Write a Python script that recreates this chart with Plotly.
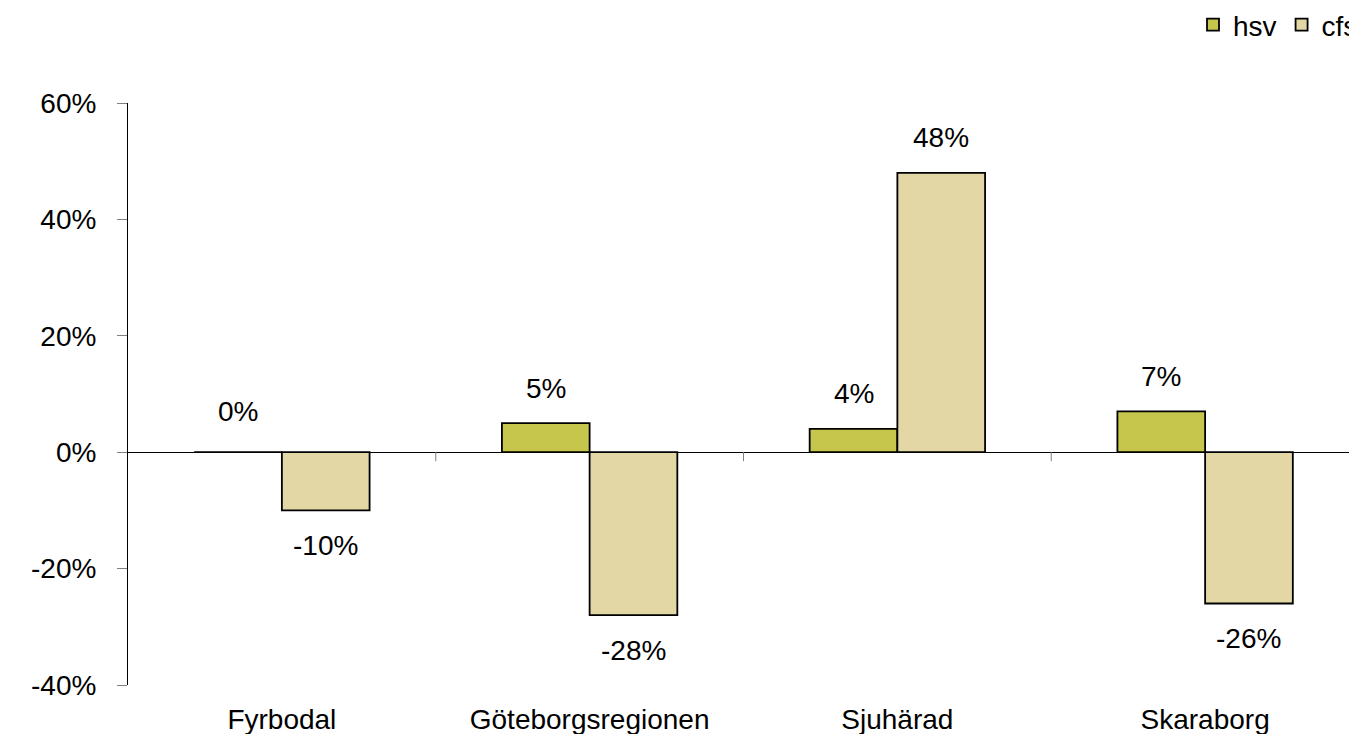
import plotly.graph_objects as go

categories = ["Fyrbodal", "Göteborgsregionen", "Sjuhärad", "Skaraborg"]
hsv_values = [0, 5, 4, 7]
c_values = [-10, -28, 48, -26]
series_names = ["hsv", "cfs"]
y_ticks = [-40, -20, 0, 20, 40, 60]

FONT = "Liberation Sans, Arial, sans-serif"
FS = 28
BARGAP = 0.43
half = (1 - BARGAP) / 4  # half bar width in category units

xs = list(range(len(categories)))

fig = go.Figure()
fig.add_trace(go.Bar(x=xs, y=hsv_values, name=series_names[0],
                     marker=dict(color="#C5C64B", line=dict(color="black", width=1.8))))
fig.add_trace(go.Bar(x=xs, y=c_values, name=series_names[1],
                     marker=dict(color="#E2D7A5", line=dict(color="black", width=1.8))))

annotations = []
for vals, sign in ((hsv_values, -1), (c_values, 1)):
    for i, v in enumerate(vals):
        annotations.append(dict(
            x=i + sign * half, y=v, xref="x", yref="y",
            text=f"{v}%", showarrow=False,
            font=dict(family=FONT, size=FS, color="black"),
            yshift=(35 if v >= 0 else -35) + (6 if v == 0 else 0),
        ))

shapes = []
for b in [i + 0.5 for i in range(len(categories) - 1)]:
    shapes.append(dict(type="line", xref="x", yref="y", x0=b, x1=b,
                       ysizemode="pixel", yanchor=0, y0=0, y1=-9,
                       line=dict(color="#808080", width=1)))

fig.update_layout(
    width=1349, height=734,
    margin=dict(l=128, r=0, t=103, b=49),
    paper_bgcolor="white", plot_bgcolor="white",
    barmode="group", bargap=BARGAP, bargroupgap=0,
    font=dict(family=FONT, size=FS, color="black"),
    annotations=annotations, shapes=shapes,
    showlegend=True,
    legend=dict(orientation="h", xref="container", yref="container",
                x=1193 / 1349, xanchor="left", y=1.0, yanchor="top",
                font=dict(family=FONT, size=FS, color="black"),
                itemwidth=30, tracegroupgap=0, bgcolor="rgba(0,0,0,0)"),
    xaxis=dict(tickmode="array", tickvals=xs, ticktext=categories,
               range=[-0.5, len(categories) - 0.5 - 10 / 308],
               showline=False, ticks="", showgrid=False, zeroline=False,
               ticklabelstandoff=15,
               tickfont=dict(family=FONT, size=FS, color="black")),
    yaxis=dict(range=[-40, 60], tickmode="array", tickvals=y_ticks,
               ticktext=[f"{t}%" for t in y_ticks],
               showline=True, linecolor="black", linewidth=1,
               ticks="outside", ticklen=10, tickcolor="#808080",
               showgrid=False, zeroline=True, zerolinecolor="black", zerolinewidth=1,
               ticklabelstandoff=15,
               tickfont=dict(family=FONT, size=FS, color="black")),
)

fig.write_html("out.html", config={"displayModeBar": False},
               post_script="document.body.style.margin='0';document.body.style.overflow='hidden';")
